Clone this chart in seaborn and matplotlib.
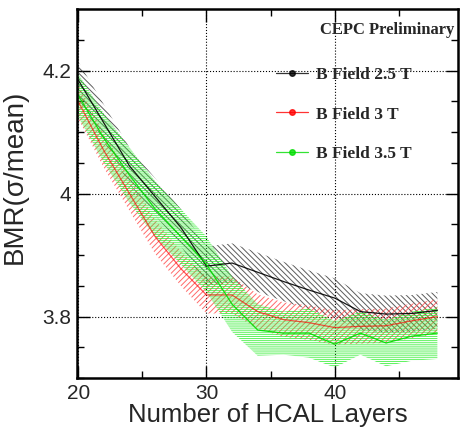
import numpy as np
import pandas as pd
import matplotlib
matplotlib.use("Agg")
import matplotlib.pyplot as plt
from matplotlib.lines import Line2D
import seaborn as sns

# values
layers = [20, 22, 24, 26, 28, 30, 32, 34, 36, 38, 40, 42, 44, 46, 48]
bmr_25 = [4.185, 4.115, 4.045, 3.995, 3.945, 3.882, 3.887, 3.872, 3.857, 3.843, 3.830, 3.808, 3.804, 3.805, 3.810]
err_25 = [0.030, 0.030, 0.030, 0.030, 0.030, 0.032, 0.032, 0.032, 0.032, 0.032, 0.032, 0.030, 0.030, 0.030, 0.030]
bmr_3 = [4.150, 4.070, 4.000, 3.930, 3.878, 3.835, 3.835, 3.808, 3.795, 3.790, 3.782, 3.784, 3.785, 3.793, 3.800]
err_3 = [0.028, 0.028, 0.028, 0.028, 0.028, 0.030, 0.030, 0.028, 0.028, 0.028, 0.028, 0.028, 0.028, 0.028, 0.028]
bmr_35 = [4.160, 4.090, 4.030, 3.975, 3.930, 3.885, 3.820, 3.778, 3.773, 3.773, 3.755, 3.773, 3.757, 3.768, 3.773]
err_35 = [0.035, 0.040, 0.045, 0.045, 0.045, 0.045, 0.045, 0.042, 0.035, 0.040, 0.038, 0.035, 0.038, 0.040, 0.042]
labels = ["B Field 2.5 T", "B Field 3 T", "B Field 3.5 T"]
colors = ["black", "#ff0000", "#00dd00"]
band_colors = ["#333333", "#ff4444", "#33ee33"]
hatches = ["\\" * 6, "/" * 6, "-" * 8]

df = pd.DataFrame({
    "layers": layers * 3,
    "bmr": bmr_25 + bmr_3 + bmr_35,
    "field": [labels[0]] * len(layers) + [labels[1]] * len(layers) + [labels[2]] * len(layers),
})
errs = {labels[0]: err_25, labels[1]: err_3, labels[2]: err_35}

sns.set_style("ticks")
plt.rcParams["font.family"] = ["Liberation Sans", "DejaVu Sans"]
plt.rcParams["hatch.linewidth"] = 0.7

fig = plt.figure(figsize=(4.63, 4.34), dpi=100)
ax = fig.add_axes([0.166, 0.129, 0.823, 0.850])

# error bands first (hatched), then central lines
for lab, col, h in zip(labels, band_colors, hatches):
    sub = df[df["field"] == lab]
    y = sub["bmr"].to_numpy()
    e = np.array(errs[lab])
    ax.fill_between(sub["layers"], y - e, y + e, facecolor="none",
                    edgecolor=col, hatch=h, linewidth=0, alpha=0.8)

sns.lineplot(data=df, x="layers", y="bmr", hue="field", palette=dict(zip(labels, colors)),
             linewidth=0.9, ax=ax, legend=False, estimator=None)
for line, a in zip(ax.get_lines(), [0.9, 0.65, 0.9]):
    line.set_alpha(a)

ax.set_xlim(19.9, 49.6)
ax.set_ylim(3.7, 4.3)
ax.set_xticks([20, 30, 40])
ax.set_yticks([3.8, 4.0, 4.2])
ax.set_yticklabels(["3.8", "4", "4.2"])
ax.set_xticks([25, 35, 45], minor=True)
ax.set_yticks(np.arange(3.7, 4.3, 0.05), minor=True)
ax.tick_params(which="both", direction="in", top=True, right=True, labelsize=15, color="black")
ax.tick_params(which="major", length=9, width=1.0, pad=4)
ax.tick_params(which="minor", length=5, width=1.0)
ax.grid(True, which="major", linestyle=":", color="black", linewidth=0.8)
for sp in ax.spines.values():
    sp.set_linewidth(1.8)
    sp.set_color("black")

ax.set_xlabel("Number of HCAL Layers", fontsize=18.5, labelpad=0)
ax.set_ylabel("BMR(σ/mean)", fontsize=20)
ax.yaxis.set_label_coords(-0.13, 0.545)

serif = ["Liberation Serif", "DejaVu Serif"]
ax.text(0.992, 0.943, "CEPC Preliminary", transform=ax.transAxes, ha="right", va="center",
        fontsize=12, fontweight="bold", family=serif)

handles = [Line2D([], [], color=c, marker="o", markersize=4, linewidth=0.9, alpha=0.8) for c in colors]
ax.legend(handles, labels, loc="upper left", bbox_to_anchor=(0.481, 0.886), frameon=False,
          prop={"family": serif, "weight": "bold", "size": 12.5}, handlelength=1.84,
          labelspacing=1.35, handletextpad=0.46)

fig.savefig("out.png", dpi=100)
